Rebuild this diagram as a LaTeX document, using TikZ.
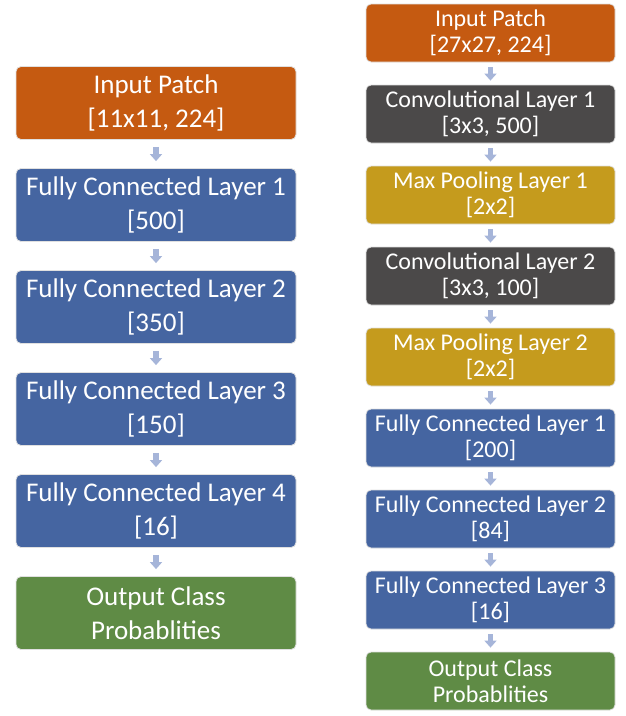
\documentclass[tikz,border=0pt]{standalone}
\usepackage{fontspec}
\setmainfont{Carlito}
\usetikzlibrary{arrows.meta}

\definecolor{patchorange}{HTML}{C55A11}
\definecolor{fcblue}{HTML}{4565A1}
\definecolor{convgray}{HTML}{4B4949}
\definecolor{poolgold}{HTML}{C59B1D}
\definecolor{outgreen}{HTML}{5F8B45}
\definecolor{flowblue}{HTML}{A6B5D9}

\begin{document}
\begin{tikzpicture}[
    x=1pt, y=-1pt,
    layer/.style={rectangle, draw=black!12, line width=0.8pt, rounded corners=5pt, text=white, align=center, inner sep=0pt},
    big/.style={layer, minimum width=280pt, minimum height=73pt, font=\fontsize{27}{34}\selectfont},
    small/.style={layer, minimum width=249pt, minimum height=58pt, font=\fontsize{24}{26.5}\selectfont},
    flow/.style={draw=flowblue, line width=5.5pt, -{Triangle[width=12pt, length=7pt]}}
]
\useasboundingbox (0,0) rectangle (625,716);

% Fully connected network
\node[big, fill=patchorange] (l_input) at (156,103) {Input Patch\\{}[11x11, 224]};
\node[big, fill=fcblue] (l_fc1) at (156,205) {Fully Connected Layer 1\\{}[500]};
\node[big, fill=fcblue] (l_fc2) at (156,307) {Fully Connected Layer 2\\{}[350]};
\node[big, fill=fcblue] (l_fc3) at (156,409) {Fully Connected Layer 3\\{}[150]};
\node[big, fill=fcblue] (l_fc4) at (156,511) {Fully Connected Layer 4\\{}[16]};
\node[big, fill=outgreen] (l_out) at (156,613) {Output Class\\Probablities};

% Convolutional network
\node[small, fill=patchorange] (r_input) at (490.5,33) {Input Patch\\{}[27x27, 224]};
\node[small, fill=convgray] (r_conv1) at (490.5,114) {Convolutional Layer 1\\{}[3x3, 500]};
\node[small, fill=poolgold] (r_pool1) at (490.5,195) {Max Pooling Layer 1\\{}[2x2]};
\node[small, fill=convgray] (r_conv2) at (490.5,276) {Convolutional Layer 2\\{}[3x3, 100]};
\node[small, fill=poolgold] (r_pool2) at (490.5,357) {Max Pooling Layer 2\\{}[2x2]};
\node[small, fill=fcblue] (r_fc1) at (490.5,438) {Fully Connected Layer 1\\{}[200]};
\node[small, fill=fcblue] (r_fc2) at (490.5,519) {Fully Connected Layer 2\\{}[84]};
\node[small, fill=fcblue] (r_fc3) at (490.5,600) {Fully Connected Layer 3\\{}[16]};
\node[small, fill=outgreen] (r_out) at (490.5,681) {Output Class\\Probablities};

% Connections
\draw[flow, shorten <=7pt, shorten >=7pt] (l_input) -- (l_fc1);
\draw[flow, shorten <=7pt, shorten >=7pt] (l_fc1) -- (l_fc2);
\draw[flow, shorten <=7pt, shorten >=7pt] (l_fc2) -- (l_fc3);
\draw[flow, shorten <=7pt, shorten >=7pt] (l_fc3) -- (l_fc4);
\draw[flow, shorten <=7pt, shorten >=7pt] (l_fc4) -- (l_out);

\draw[flow, shorten <=5pt, shorten >=4pt] (r_input) -- (r_conv1);
\draw[flow, shorten <=5pt, shorten >=4pt] (r_conv1) -- (r_pool1);
\draw[flow, shorten <=5pt, shorten >=4pt] (r_pool1) -- (r_conv2);
\draw[flow, shorten <=5pt, shorten >=4pt] (r_conv2) -- (r_pool2);
\draw[flow, shorten <=5pt, shorten >=4pt] (r_pool2) -- (r_fc1);
\draw[flow, shorten <=5pt, shorten >=4pt] (r_fc1) -- (r_fc2);
\draw[flow, shorten <=5pt, shorten >=4pt] (r_fc2) -- (r_fc3);
\draw[flow, shorten <=5pt, shorten >=4pt] (r_fc3) -- (r_out);

\end{tikzpicture}
\end{document}
